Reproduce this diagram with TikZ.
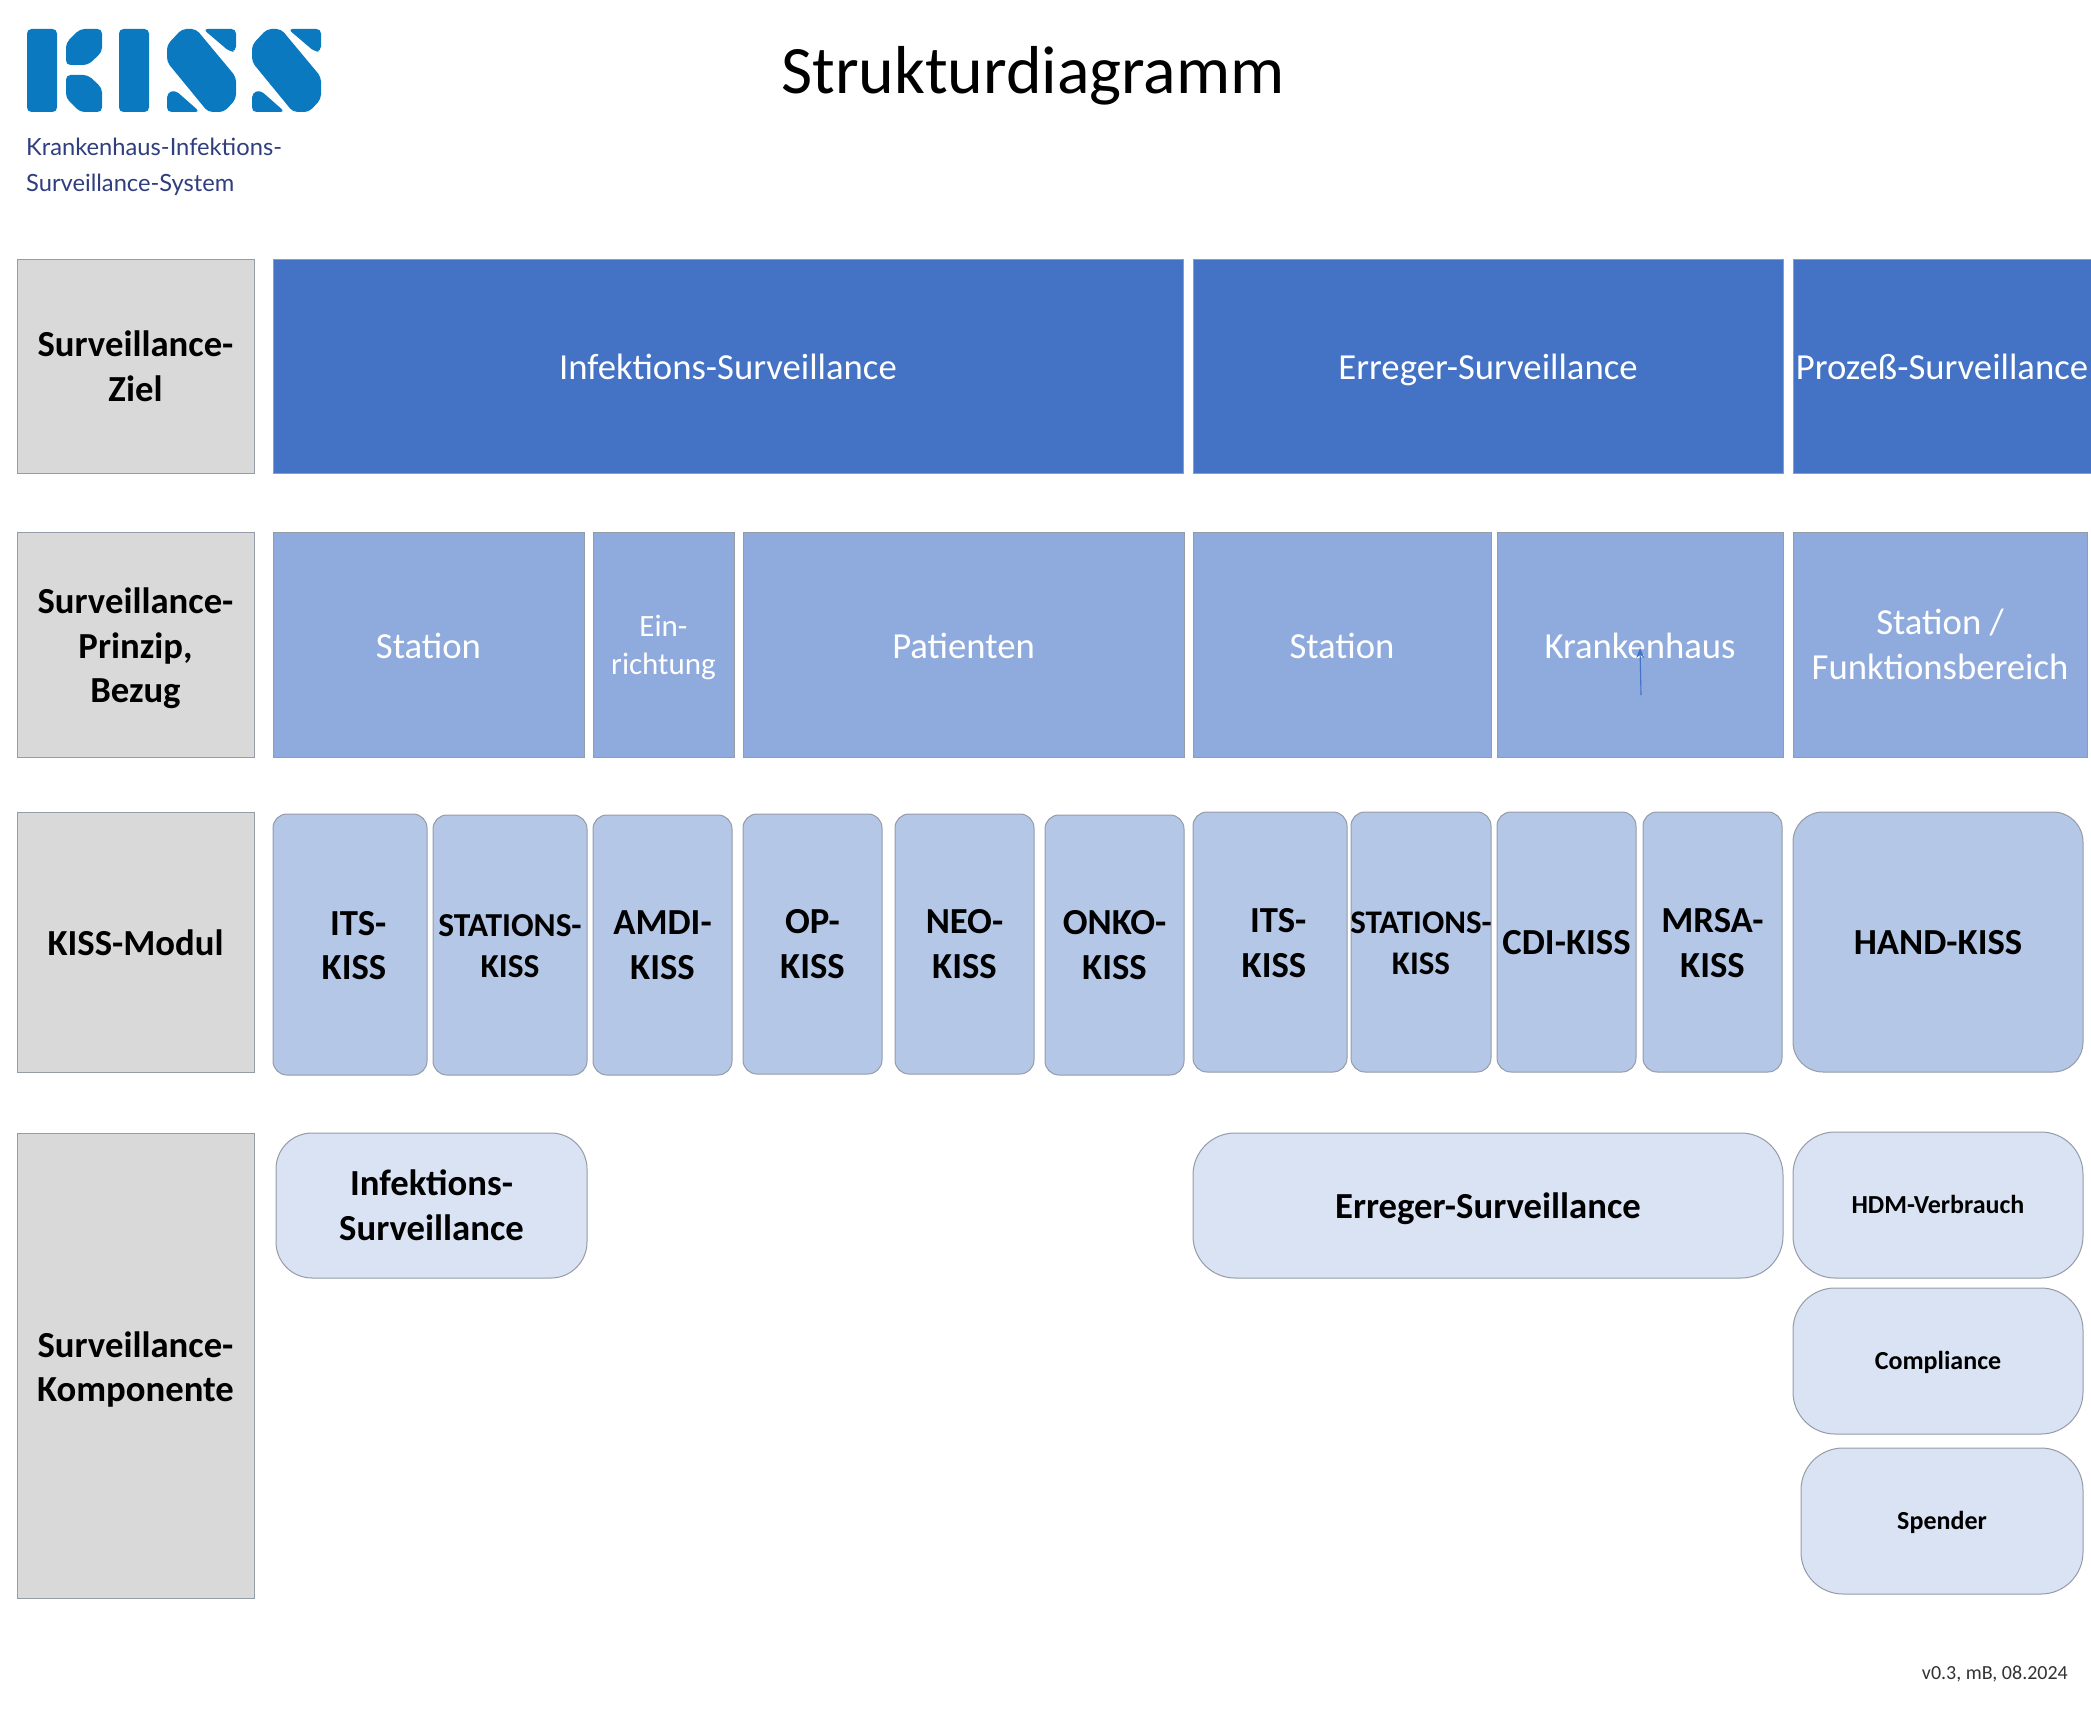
\documentclass[tikz,border=0pt]{standalone}
\usepackage{fontspec}
\usetikzlibrary{arrows.meta}
\setmainfont{Carlito}
\newfontfamily\logofont{Lato}
\definecolor{cdark}{HTML}{4472C4}
\definecolor{cmid}{HTML}{8FAADC}
\definecolor{clight}{HTML}{B4C7E7}
\definecolor{cpale}{HTML}{DAE3F3}
\definecolor{cgrey}{HTML}{D9D9D9}
\definecolor{cedge}{HTML}{949CA8}
\definecolor{clogo}{HTML}{0A79BF}
\definecolor{clogotext}{HTML}{2F3E7E}
\tikzset{
  base/.style={draw=cedge,line width=1pt,inner sep=0pt,outer sep=0pt,anchor=north west},
  greybox/.style={base,fill=cgrey},
  goalbox/.style={base,fill=cdark},
  princbox/.style={base,fill=cmid},
  modbox/.style={base,fill=clight,rounded corners=14pt},
  handbox/.style={base,fill=clight,rounded corners=30pt},
  compbox/.style={base,fill=cpale,rounded corners=36pt},
  compwide/.style={base,fill=cpale,rounded corners=42pt},
  lab/.style={align=center,inner sep=0pt,font=\fontsize{36.7}{44.7}\selectfont},
  blab/.style={lab,font=\fontsize{36.7}{44.7}\selectfont\bfseries},
  wlab/.style={lab,text=white},
  slab/.style={lab,font=\fontsize{26}{32}\selectfont\bfseries},
  mlab/.style={lab,font=\fontsize{33.5}{41}\selectfont\bfseries},
  logopart/.style={fill=clogo,rounded corners=4.5pt},
}
% [dx,dy] name, box style, x1, y1, x2, y2, text style, text
\newcommand\bx[9][0,0]{%
  \node[#3,minimum width=#6pt-#4pt,minimum height=#7pt-#5pt] (#2) at (#4,#5) {};
  \node[#8] (#2-t) at ([shift={(#1)}]#2.center) {#9};}
\begin{document}
\begin{tikzpicture}[x=1pt,y=-1pt]
\useasboundingbox (0,0) rectangle (2091,1718);
\fill[white] (0,0) rectangle (2091,1718);

% logo
\fill[logopart] (27,29) rectangle (57,112);
\fill[logopart] (66,43) -- (80,29) -- (102,29) -- (102,52) -- (88,65) -- (66,65) -- cycle;
\fill[logopart] (66,75) -- (88,75) -- (102,88) -- (102,112) -- (80,112) -- (66,98) -- cycle;
\fill[logopart] (119,29) rectangle (149,112);
\foreach \dx in {0,85}{
  \begin{scope}[xshift=\dx pt]
  \fill[logopart] (167,45) -- (182,29) -- (196,29) -- (236,77) -- (236,99) -- (224,112) -- (208,112) -- (167,62) -- cycle;
  \fill[logopart] (203,29) -- (236,29) -- (236,51) -- (230,52) -- cycle;
  \fill[logopart] (167,112) -- (200,112) -- (175,90) -- (167,93) -- cycle;
  \end{scope}
}
\node[anchor=north west,inner sep=0pt,align=left,text=clogotext,font=\logofont\fontsize{23.7}{35.5}\selectfont] (logotext) at (26,138) {Krankenhaus-Infektions-\\Surveillance-System};

% title
\node[lab,font=\fontsize{67.8}{74}\selectfont] (title) at (1033,76) {Strukturdiagramm};

% row 1
\bx{g1}{greybox}{17}{259}{254}{473}{blab}{Surveillance-\\Ziel}
\bx[0,1]{a1}{goalbox}{273}{259}{1183}{473}{wlab}{Infektions-Surveillance}
\bx[0,4]{a2}{goalbox}{1193}{259}{1783}{473}{wlab}{Erreger-Surveillance}
\bx[0,1]{a3}{goalbox}{1793}{259}{2091}{473}{wlab}{Prozeß-Surveillance}

% row 2
\bx[0,4]{g2}{greybox}{17}{532}{254}{757}{blab}{Surveillance-\\Prinzip,\\Bezug}
\bx[0,1]{b1}{princbox}{273}{532}{584}{757}{wlab}{Station}
\bx[0,3]{b2}{princbox}{593}{532}{734}{757}{wlab,font=\fontsize{31}{37.5}\selectfont}{Ein-\\richtung}
\bx[0,1]{b3}{princbox}{743}{532}{1184}{757}{wlab}{Patienten}
\bx[0,1]{b4}{princbox}{1193}{532}{1491}{757}{wlab}{Station}
\bx[0,1]{b5}{princbox}{1497}{532}{1783}{757}{wlab}{Krankenhaus}
\bx{b6}{princbox}{1793}{532}{2087}{757}{wlab}{Station /\\Funktionsbereich}

% row 3
\bx[0,1]{g3}{greybox}{17}{812}{254}{1072}{blab}{KISS-Modul}
\bx[4,1]{m1}{modbox}{273}{814}{427}{1075}{blab,align=right}{ITS-\\KISS}
\bx[0,1]{m2}{modbox}{433}{815}{587}{1075}{mlab}{STATIONS-\\KISS}
\bx{m3}{modbox}{593}{815}{732}{1075}{blab}{AMDI-\\KISS}
\bx{m4}{modbox}{743}{814}{882}{1074}{blab}{OP-\\KISS}
\bx{m5}{modbox}{895}{814}{1034}{1074}{blab}{NEO-\\KISS}
\bx{m6}{modbox}{1045}{815}{1184}{1075}{blab}{ONKO-\\KISS}
\bx[4,1]{m7}{modbox}{1193}{812}{1347}{1072}{blab,align=right}{ITS-\\KISS}
\bx[0,1]{m8}{modbox}{1351}{812}{1491}{1072}{mlab,font=\fontsize{33}{41}\selectfont\bfseries}{STATIONS-\\KISS}
\bx[0,1]{m9}{modbox}{1497}{812}{1636}{1072}{blab}{CDI-KISS}
\bx[0,1]{m10}{modbox}{1643}{812}{1782}{1072}{blab}{MRSA-\\KISS}
\bx[0,1]{m11}{handbox}{1793}{812}{2083}{1072}{blab}{HAND-KISS}

% row 4
\bx[0,4]{g4}{greybox}{17}{1133}{254}{1598}{blab}{Surveillance-\\Komponente}
\bx{c1}{compbox}{276}{1133}{587}{1278}{blab}{Infektions-\\Surveillance}
\bx[0,3]{c2}{compwide}{1193}{1133}{1783}{1278}{blab}{Erreger-Surveillance}
\bx[0,-1]{c3}{compwide}{1793}{1132}{2083}{1278}{slab}{HDM-Verbrauch}
\bx[0,1]{c4}{compwide}{1793}{1288}{2083}{1434}{slab}{Compliance}
\bx[0,1]{c5}{compwide}{1801}{1448}{2083}{1594}{slab}{Spender}

% stray arrow
\coordinate (ar1) at (1641,695);
\coordinate (ar2) at (1640,648);
\draw[cdark,line width=1.1pt,-{Stealth[length=10pt,width=8pt]}] (ar1) -- (ar2);

% version
\node[anchor=east,inner sep=0pt,font=\fontsize{20}{24}\selectfont,text=black!80] (version) at (2068,1674) {v0.3, mB, 08.2024};
\end{tikzpicture}
\end{document}
